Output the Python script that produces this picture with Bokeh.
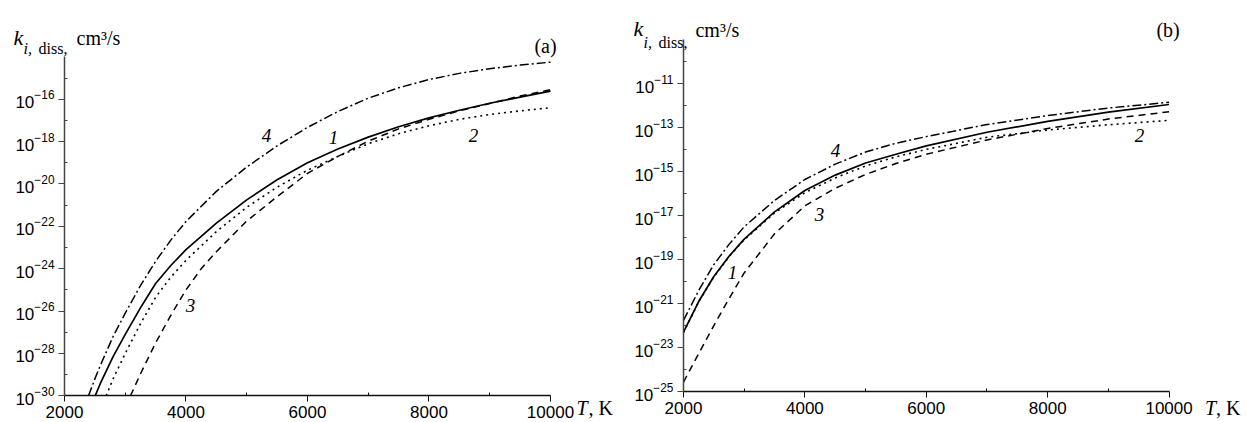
import numpy as np
from bokeh.plotting import figure
from bokeh.models import Range1d, FixedTicker, LogTickFormatter, Label
from bokeh.layouts import row
from bokeh.embed import file_html
from bokeh.resources import INLINE

SANS = "Liberation Sans"
SERIF = "Liberation Serif"

# ---------------- data, panel (a): log10 of k (cm^3/s) vs T (K) ----------------
a_T1 = [2505, 2600, 2800, 3000, 3250, 3500, 3750, 4000, 4500, 5000, 5500, 6000, 6500, 7000, 7500, 8000, 8500, 9000, 9500, 10000]
a_k1 = [-30, -29.35, -28.15, -27.1, -25.85, -24.7, -23.85, -23.1, -21.85, -20.75, -19.8, -19.0, -18.35, -17.79, -17.3, -16.88, -16.52, -16.19, -15.9, -15.62]

a_T2 = [2686, 2800, 3000, 3250, 3500, 3750, 4000, 4500, 5000, 5500, 6000, 6500, 7000, 7500, 8000, 8500, 9000, 9500, 10000]
a_k2 = [-30, -29.2, -28.0, -26.6, -25.35, -24.4, -23.6, -22.25, -21.1, -20.15, -19.35, -18.7, -18.1, -17.63, -17.25, -16.95, -16.72, -16.55, -16.4]

a_T3 = [3086, 3250, 3500, 3750, 4000, 4250, 4500, 5000, 5500, 6000, 6500, 7000, 7500, 8000, 8500, 9000, 9500, 10000]
a_k3 = [-30, -28.97, -27.5, -26.2, -25.0, -24.0, -23.2, -21.75, -20.6, -19.5, -18.7, -17.98, -17.4, -16.95, -16.55, -16.2, -15.85, -15.55]

a_T4 = [2395, 2500, 2600, 2800, 3000, 3250, 3500, 3750, 4000, 4500, 5000, 5500, 6000, 6500, 7000, 7500, 8000, 8500, 9000, 9500, 10000]
a_k4 = [-30, -29.2, -28.5, -27.2, -26.1, -24.8, -23.65, -22.65, -21.77, -20.35, -19.2, -18.2, -17.33, -16.58, -15.95, -15.46, -15.07, -14.78, -14.56, -14.39, -14.25]

# ---------------- data, panel (b) ----------------
b_T = [2000, 2250, 2500, 2750, 3000, 3500, 4000, 4500, 5000, 5500, 6000, 7000, 8000, 9000, 10000]
b_k1 = [-22.29, -20.9, -19.76, -18.84, -18.06, -16.82, -15.85, -15.15, -14.6, -14.2, -13.82, -13.2, -12.71, -12.29, -11.94]
b_k2 = [-22.31, -20.92, -19.78, -18.86, -18.09, -16.87, -15.95, -15.28, -14.73, -14.32, -13.98, -13.43, -13.1, -12.86, -12.66]
b_k3 = [-24.56, -23.27, -21.99, -20.77, -19.6, -17.82, -16.55, -15.75, -15.12, -14.62, -14.2, -13.55, -13.03, -12.6, -12.27]
b_k4 = [-21.76, -20.4, -19.22, -18.3, -17.5, -16.3, -15.35, -14.65, -14.1, -13.7, -13.4, -12.85, -12.44, -12.1, -11.84]

# axis extents (T in K, log10 k)
x_axis = (2000, 10000)
x_major = [2000, 4000, 6000, 8000, 10000]
x_minor = [3000, 5000, 7000, 9000]
a_axis = (-30, -14)
a_ymajor = [-30, -28, -26, -24, -22, -20, -18, -16]
a_yminor = [-29, -27, -25, -23, -21, -19, -17, -15]
b_axis = (-25, -9)
b_ymajor = [-25, -23, -21, -19, -17, -15, -13, -11]
b_yminor = [-24, -22, -20, -18, -16, -14, -12, -10]

# visible window around each panel (the frame spans the whole canvas, the axes are
# pinned at T = 2000 and at the lowest k)
a_view_x = (946.5, 11317)
a_view_y = (-31.26, -11.34)
b_view_x = (1127, 11292)
b_view_y = (-26.40, -7.21)

# curve labels: (text, T, log10 k)
a_curve_labels = [("4", 5325, -17.71), ("1", 6428, -17.81), ("2", 8733, -17.71), ("3", 4074, -25.74)]
b_curve_labels = [("4", 4504, -14.03), ("1", 2807, -19.58), ("3", 4240, -16.94), ("2", 9512, -13.34)]

STYLES = {
    1: dict(line_dash="solid", line_width=1.7),
    2: dict(line_dash="2 4", line_width=1.6),
    3: dict(line_dash="7 5", line_width=1.5),
    4: dict(line_dash="9 3 2 3", line_width=1.5),
}


def txt(p, x, y, text, dx=0, dy=0, size="20px", font=SERIF, style="normal",
        align="left", baseline="middle"):
    p.add_layout(Label(x=x, y=y, x_offset=dx, y_offset=dy, text=text,
                       text_font=font, text_font_size=size, text_font_style=style,
                       text_color="black", text_align=align, text_baseline=baseline))


def panel(width, view_x, view_y, axis, ymaj, ymin):
    p = figure(width=width, height=422, y_axis_type="log",
               x_range=Range1d(*view_x),
               y_range=Range1d(10.0 ** view_y[0], 10.0 ** view_y[1]),
               output_backend="svg", toolbar_location=None, title=None,
               min_border_left=0, min_border_right=0,
               min_border_top=0, min_border_bottom=0)
    p.outline_line_color = None
    p.xgrid.visible = False
    p.ygrid.visible = False
    p.background_fill_color = "white"
    p.border_fill_color = "white"

    p.xaxis.ticker = FixedTicker(ticks=x_major, minor_ticks=x_minor)
    p.yaxis.ticker = FixedTicker(ticks=[10.0 ** e for e in ymaj],
                                 minor_ticks=[10.0 ** e for e in ymin])
    p.yaxis.formatter = LogTickFormatter()
    p.xaxis.bounds = x_axis
    p.yaxis.bounds = (10.0 ** axis[0], 10.0 ** axis[1])
    p.xaxis.fixed_location = 10.0 ** axis[0]
    p.yaxis.fixed_location = x_axis[0]
    for ax in (p.xaxis, p.yaxis):
        ax.axis_line_width = 1.5
        ax.major_tick_out = 6
        ax.major_tick_in = 0
        ax.minor_tick_out = 0
        ax.minor_tick_in = 3
        ax.major_label_text_font = SANS
        ax.major_label_text_font_size = "17px"
        ax.major_label_text_color = "black"
    p.yaxis.axis_line_color = "#444444"
    p.yaxis.major_tick_line_color = "#444444"
    p.yaxis.minor_tick_line_color = "#444444"
    p.xaxis.axis_line_color = "#111111"
    p.xaxis.major_tick_line_color = "#111111"
    p.xaxis.minor_tick_line_color = "#111111"
    p.xaxis.major_label_standoff = 4
    p.yaxis.major_label_standoff = 4
    return p


def draw(p, T, k, idx):
    p.line(T, 10.0 ** np.array(k), line_color="black", line_cap="butt", **STYLES[idx])


def titles(p, axis, kdx, kdy, sub_dy, cm_dy, tx, tkx, tdy):
    top = 10.0 ** axis[1]
    bot = 10.0 ** axis[0]
    # y-axis title k_{i, diss}, cm^3/s  (anchored at the top of the y axis)
    txt(p, x_axis[0], top, "k", dx=kdx, dy=kdy, size="22px", style="italic")
    txt(p, x_axis[0], top, "i,", dx=kdx + 10, dy=sub_dy, size="16px", style="italic")
    txt(p, x_axis[0], top, "diss,", dx=kdx + 25, dy=sub_dy, size="16px")
    txt(p, x_axis[0], top, "cm³/s", dx=12, dy=cm_dy, size="20px")
    # x-axis title T, K  (anchored at the right end of the x axis)
    txt(p, x_axis[1], bot, "T", dx=tx, dy=tdy, size="20px", style="italic")
    txt(p, x_axis[1], bot, ", K", dx=tkx, dy=tdy, size="20px")


# ---------------- panel (a) ----------------
pa = panel(630, a_view_x, a_view_y, a_axis, a_ymajor, a_yminor)
draw(pa, a_T1, a_k1, 1)
draw(pa, a_T2, a_k2, 2)
draw(pa, a_T3, a_k3, 3)
draw(pa, a_T4, a_k4, 4)
for t, x, y in a_curve_labels:
    txt(pa, x, 10.0 ** y, t, size="19px", style="italic", align="center")
titles(pa, a_axis, -51, 19.6, 8.1, 19, 26, 38, -12.5)
txt(pa, x_axis[1], 10.0 ** a_axis[1], "(a)", dx=-5, dy=10.6, size="20px", align="center")

# ---------------- panel (b) ----------------
pb = panel(617, b_view_x, b_view_y, b_axis, b_ymajor, b_yminor)
draw(pb, b_T, b_k1, 1)
draw(pb, b_T, b_k2, 2)
draw(pb, b_T, b_k3, 3)
draw(pb, b_T, b_k4, 4)
for t, x, y in b_curve_labels:
    txt(pb, x, 10.0 ** y, t, size="19px", style="italic", align="center")
titles(pb, b_axis, -50, 10.9, -2.6, 10.3, 36, 47, -16)
txt(pb, x_axis[1], 10.0 ** b_axis[1], "(b)", dx=-1, dy=10.3, size="20px", align="center")

layout = row(pa, pb)
open("out.html", "w").write(file_html(layout, INLINE))
